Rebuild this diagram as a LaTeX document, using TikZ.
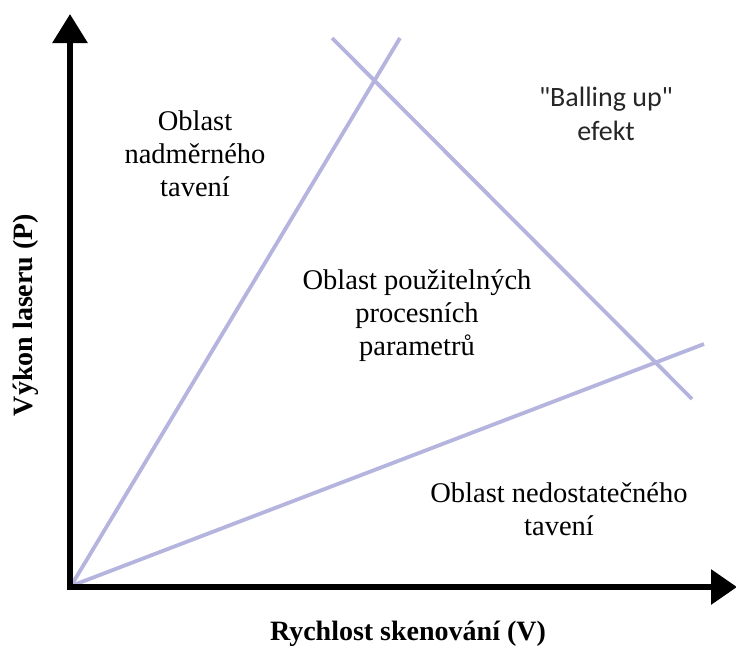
\documentclass[tikz,border=0pt]{standalone}
\usepackage{fontspec}
\setmainfont{Liberation Serif}
\newfontfamily\calibrifont{Carlito}
\usetikzlibrary{arrows.meta}
\definecolor{lav}{RGB}{180,180,222}
\tikzset{
  axisline/.style={line width=6pt, line join=miter, {Triangle[length=29pt,width=34pt]}-{Triangle[length=26pt,width=34pt]}},
  regionline/.style={draw=lav, line width=3.8pt},
  lbl/.style={align=center, font=\fontsize{28.5}{33}\selectfont, inner sep=0pt},
  sanslbl/.style={align=center, font=\fontsize{28}{34}\selectfont\calibrifont, text=black!85, inner sep=0pt},
  axislbl/.style={font=\fontsize{28}{33}\selectfont\bfseries, inner sep=0pt}
}
\begin{document}
\begin{tikzpicture}[x=1pt,y=1pt]
\useasboundingbox[fill=white] (0,0) rectangle (736,-657);
% region boundary lines
\coordinate (O) at (71,-586);
\coordinate (A) at (400,-38);
\coordinate (B) at (704,-344);
\coordinate (C) at (332,-38);
\coordinate (D) at (692,-399);
\draw[regionline] (O) -- (A);
\draw[regionline] (O) -- (B);
\draw[regionline] (C) -- (D);
% axes
\coordinate (ytip) at (70,-14);
\coordinate (corner) at (70,-587);
\coordinate (xtip) at (737,-587);
\draw[axisline] (ytip) -- (corner) -- (xtip);
% labels
\node[lbl] (over) at (195,-154) {Oblast\\nadměrného\\tavení};
\node[sanslbl] (ball) at (606,-114) {"Balling up"\\efekt};
\node[lbl] (use) at (417,-316) {Oblast použitelných\\procesních\\parametrů};
\node[lbl] (under) at (559,-509) {Oblast nedostatečného\\tavení};
\node[axislbl] (xl) at (408,-634) {Rychlost skenování (V)};
\node[axislbl, rotate=90] (yl) at (26,-315) {Výkon laseru (P)};
\end{tikzpicture}
\end{document}
